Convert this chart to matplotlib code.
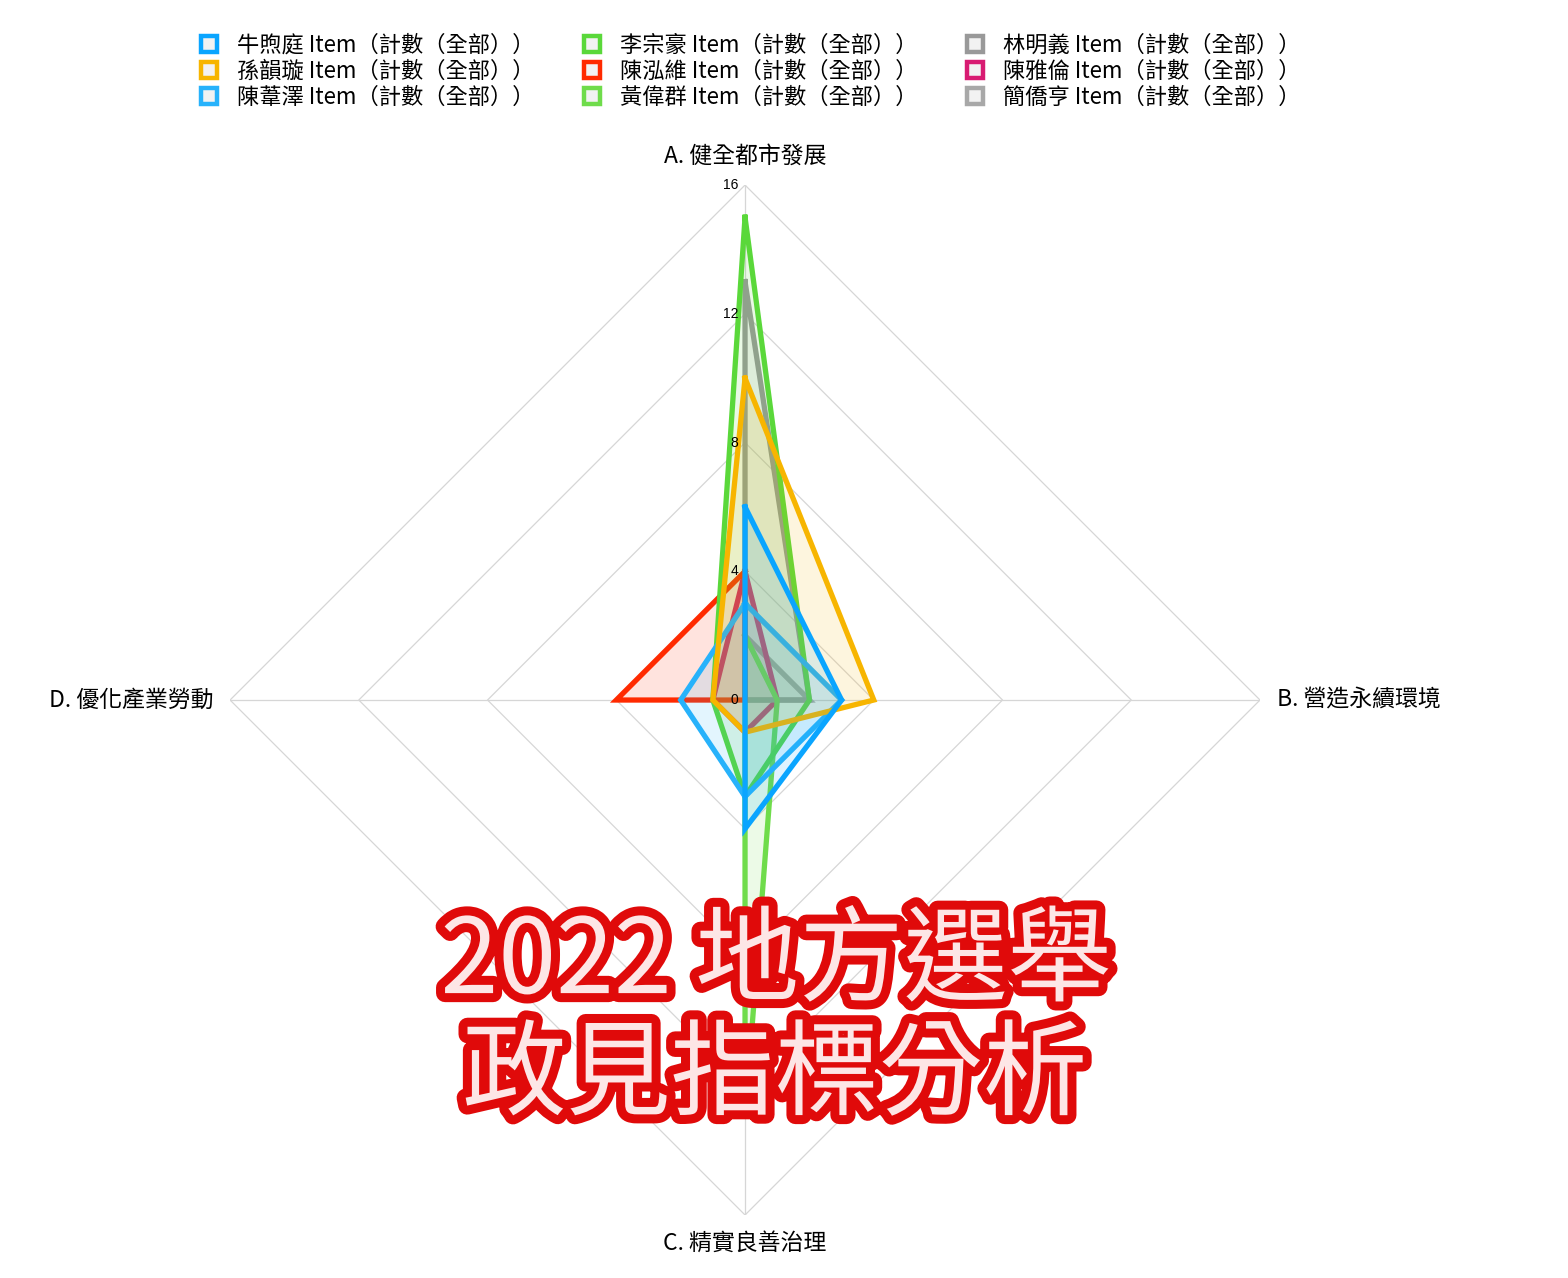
import numpy as np
import matplotlib.pyplot as plt
from matplotlib.lines import Line2D
import matplotlib.patheffects as pe

plt.rcParams['font.family'] = ['Noto Sans CJK TC', 'DejaVu Sans']

# axes of the radar, clockwise from the top
axis_labels = ["A. 健全都市發展", "B. 營造永續環境", "C. 精實良善治理", "D. 優化產業勞動"]
ticks = [0, 4, 8, 12, 16]

# legend order (column by column)
names = ["牛煦庭", "孫韻璇", "陳葦澤", "李宗豪", "陳泓維", "黃偉群", "林明義", "陳雅倫", "簡僑亨"]
colors = ["#0aa5ff", "#f7b500", "#27b2fb", "#5ad83a", "#ff2a00", "#6fdc4b", "#999999", "#d81b72", "#a8a8a8"]

# counts per axis [A, B, C, D]
niu = [6, 3, 4, 0]
sun = [10, 4, 1, 1]
chen_wz = [3, 3, 3, 2]
li = [15, 2, 3, 1]
chen_hw = [4, 0, 0, 4]
huang = [2, 1, 13, 0]
lin = [13, 2, 0, 0]
chen_yl = [4, 1, 1, 1]
jian = [2, 2, 0, 0]
values = [niu, sun, chen_wz, li, chen_hw, huang, lin, chen_yl, jian]

fig = plt.figure(figsize=(15.68, 12.78), dpi=100)
ax = fig.add_axes([0.1467, 0.0493, 0.6569, 0.8059], projection='polar')
ax.set_theta_zero_location('N')
ax.set_theta_direction(-1)
ax.set_ylim(0, 16)
ax.grid(False)
ax.set_xticks([])
ax.set_yticks([])
ax.spines['polar'].set_visible(False)
ax.patch.set_visible(False)

angles = np.arange(4) * np.pi / 2
closed = np.append(angles, angles[0])

# polygon grid and spokes
for r in ticks[1:]:
    ax.plot(closed, [r] * 5, color='#d6d6d6', lw=0.9, zorder=0)
for a in angles:
    ax.plot([a, a], [0, 16], color='#d6d6d6', lw=0.9, zorder=0)

for t in ticks:
    ax.annotate(str(t), xy=(0, t), xytext=(-5, 0), textcoords='offset points',
                ha='right', va='center', fontsize=10, family='Liberation Sans', zorder=50)

offsets = [(0, 21), (12, 0), (0, -20), (-12, 0)]
aligns = [('center', 'center'), ('left', 'center'), ('center', 'center'), ('right', 'center')]
for lab, a, off, al in zip(axis_labels, angles, offsets, aligns):
    ax.annotate(lab, xy=(a, 16), xytext=off, textcoords='offset points',
                ha=al[0], va=al[1], fontsize=16.5, annotation_clip=False)

# first series ends up on top
z = 2
for name, col, v in reversed(list(zip(names, colors, values))):
    vv = v + [v[0]]
    ax.fill(closed, vv, color=col, alpha=0.13, lw=0, zorder=z)
    ax.plot(closed, vv, color=col, lw=3.8, solid_joinstyle='miter', zorder=z + 1)
    z += 2

handles = []
for col in colors:
    handles.append(Line2D([], [], ls='none', marker='s', markersize=11,
                          markerfacecolor='#f2f2f2', markeredgecolor=col, markeredgewidth=3.2))
labels = [n + " Item（計數（全部））" for n in names]
fig.legend(handles, labels, loc='upper center', bbox_to_anchor=(0.478, 0.989), ncol=3,
           frameon=False, handlelength=1.0, handletextpad=0.75, columnspacing=2.1,
           labelspacing=0.13, prop={'family': 'Noto Sans CJK TC', 'size': 16})

title_fx = [pe.Stroke(linewidth=13, foreground='#e00a0a'), pe.Normal()]
fig.text(0.495, 0.246, "2022 地方選舉", ha='center', va='center', fontsize=75,
         color='#fde6e6', path_effects=title_fx, zorder=100)
fig.text(0.494, 0.157, "政見指標分析", ha='center', va='center', fontsize=75,
         color='#fde6e6', path_effects=title_fx, zorder=100)

fig.savefig('out.png', dpi=100)
